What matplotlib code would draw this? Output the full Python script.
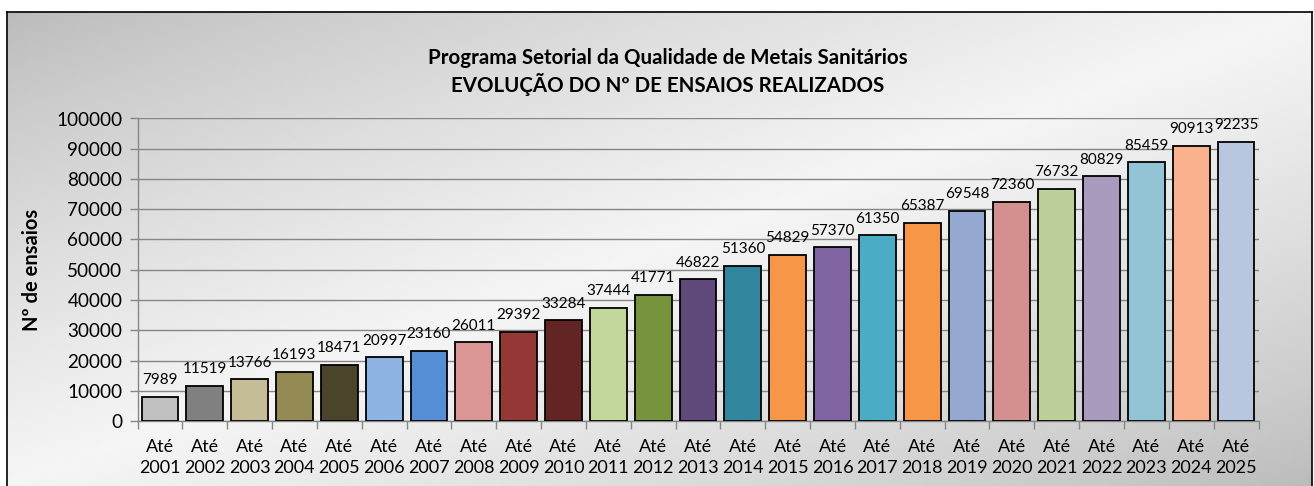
import numpy as np
import matplotlib
matplotlib.use("Agg")
import matplotlib.pyplot as plt
from matplotlib.lines import Line2D

plt.rcParams["font.family"] = ["Lato", "DejaVu Sans"]

# Dados
anos = ["2001", "2002", "2003", "2004", "2005", "2006", "2007", "2008", "2009",
        "2010", "2011", "2012", "2013", "2014", "2015", "2016", "2017", "2018",
        "2019", "2020", "2021", "2022", "2023", "2024", "2025"]
ensaios = [7989, 11519, 13766, 16193, 18471, 20997, 23160, 26011, 29392,
           33284, 37444, 41771, 46822, 51360, 54829, 57370, 61350, 65387,
           69548, 72360, 76732, 80829, 85459, 90913, 92235]
cores = ["#c0c0c0", "#808080", "#c4bd97", "#948a54", "#4a452a", "#8db4e2",
         "#558ed5", "#d99694", "#953735", "#632523", "#c3d69b", "#77933c",
         "#604a7b", "#31859c", "#f79646", "#8064a2", "#4bacc6", "#f79646",
         "#95a9d0", "#d48f8f", "#bcd09a", "#a99bbd", "#93c4d5", "#fab28e",
         "#b9c6e0"]
rotulos = [f"Até\n{a}" for a in anos]

W, H = 1314, 486
fig = plt.figure(figsize=(W / 100, H / 100), dpi=100)
fig.patch.set_facecolor("white")

# Fundo com gradiente diagonal (cinza - branco - cinza)
bg = fig.add_axes([0, 0, 1, 1], zorder=-10)
u = np.linspace(0, 1, 400)[None, :]
v = np.linspace(0, 1, 160)[:, None]
t = 0.5 * u + 0.5 * v
g = 0.73 + 0.23 * (1 - np.abs(2 * t - 1)) ** 0.8
bg.imshow(g, cmap="gray", vmin=0, vmax=1, aspect="auto",
          extent=[6.5 / W, 1311.5 / W, 0, 1 - 12.5 / H], interpolation="bilinear")
bg.set_xlim(0, 1)
bg.set_ylim(0, 1)
bg.axis("off")

# Moldura
x0, x1, y1 = 6.5 / W, 1311.5 / W, 1 - 12.5 / H
for xs, ys in [([x0, x0], [0, y1]), ([x0, x1], [y1, y1]), ([x1, x1], [y1, 0])]:
    fig.add_artist(Line2D(xs, ys, color="black", lw=1.2, transform=fig.transFigure))

ax = fig.add_axes([137.5 / W, 1 - 421 / H, (1258.5 - 137.5) / W, (421 - 118.5) / H])
ax.patch.set_alpha(0)
x = np.arange(len(anos))
bars = ax.bar(x, ensaios, width=0.82, color=cores, edgecolor="black", linewidth=1.3, zorder=3)

# Valores acima das barras
for xi, val in zip(x, ensaios):
    ax.annotate(str(val), (xi, val), xytext=(0, 7), textcoords="offset points",
                ha="center", va="bottom", fontsize=11, color="black", zorder=4)

ax.set_xlim(-0.5, len(anos) - 0.5)
ax.set_ylim(0, 100000)
ax.set_yticks(np.arange(0, 100001, 10000))
ax.tick_params(axis="y", labelsize=13.6, length=6, color="#868686", width=1, pad=5)
ax.set_xticks(x)
ax.set_xticklabels(rotulos, fontsize=13, linespacing=1.4)
ax.tick_params(axis="x", length=0, pad=13)
ax.set_xticks(np.arange(-0.5, len(anos), 1), minor=True)
ax.tick_params(axis="x", which="minor", length=6, color="#868686", width=1)
ax.grid(axis="y", color="#868686", linewidth=1.0, zorder=0)
ax.spines[["top", "right"]].set_visible(False)
ax.spines[["left", "bottom"]].set_color("#868686")
ax.spines[["left", "bottom"]].set_linewidth(1.0)

ax.set_ylabel("Nº de ensaios", fontsize=14.5, fontweight="bold", labelpad=10)

fig.text(0.508, 1 - 58 / H, "Programa Setorial da Qualidade de Metais Sanitários",
         ha="center", va="center", fontsize=14.8, fontweight="bold")
fig.text(0.508, 1 - 85 / H, "EVOLUÇÃO DO Nº DE ENSAIOS REALIZADOS",
         ha="center", va="center", fontsize=14.8, fontweight="bold")

fig.savefig("out.png", dpi=100)
